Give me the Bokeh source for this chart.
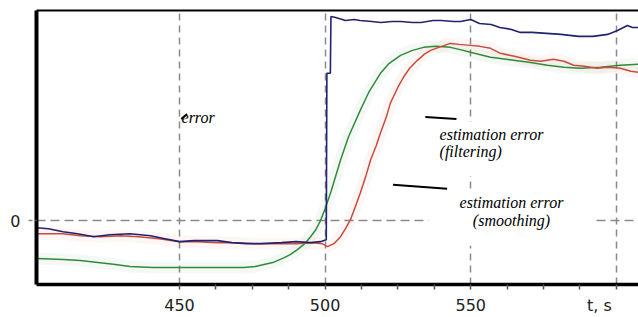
from bokeh.plotting import figure
from bokeh.models import Range1d, FixedTicker, LinearAxis, Label, BoxAnnotation
from bokeh.embed import file_html
from bokeh.resources import INLINE

# ---- data ----
blue_t = [401, 405, 410, 415, 420.5, 426, 433, 440, 445, 450, 455, 463, 468, 473, 478, 485, 490, 495,
          498.4, 500.4, 500.6, 501.8, 502.0, 503.6, 507, 510, 512, 516, 519, 523, 526, 530, 533, 537,
          540, 544, 546.5, 550, 553, 557, 560, 564, 567, 571, 576, 581, 587, 592, 597, 600.4, 603.8,
          605.5, 607.5]
blue_v = [-0.07, -0.08, -0.11, -0.13, -0.16, -0.14, -0.13, -0.15, -0.18, -0.21, -0.20, -0.20, -0.22,
          -0.23, -0.23, -0.22, -0.21, -0.22, -0.21, -0.19, 1.48, 1.48, 2.05, 2.04, 2.01, 2.02, 2.01,
          2.00, 1.99, 2.00, 2.00, 1.99, 1.99, 2.01, 2.01, 2.00, 2.00, 2.02, 1.98, 1.97, 1.94, 1.92,
          1.89, 1.89, 1.88, 1.87, 1.85, 1.85, 1.87, 1.91, 1.96, 1.94, 1.94]

red_t = [401, 405, 410, 416, 423, 430, 436, 443, 450, 456, 463, 470, 476, 483, 490, 496, 499, 500.8,
         503, 505.3, 507, 508.7, 510.5, 512.1, 514, 515.6, 517.5, 519, 521, 522.4, 525, 526.9, 529,
         531.7, 534, 536.2, 540, 543, 546, 549.9, 553, 556.8, 560.2, 565, 570.5, 574, 578.4, 582,
         585.3, 589, 593.5, 597, 601.4, 605, 607.5]
red_v = [-0.13, -0.13, -0.13, -0.15, -0.16, -0.15, -0.16, -0.18, -0.21, -0.21, -0.22, -0.22, -0.23,
         -0.23, -0.23, -0.22, -0.23, -0.26, -0.23, -0.16, -0.08, 0.01, 0.15, 0.28, 0.45, 0.61, 0.75,
         0.88, 1.04, 1.18, 1.34, 1.44, 1.53, 1.61, 1.67, 1.71, 1.75, 1.78, 1.77, 1.76, 1.75, 1.73,
         1.68, 1.65, 1.61, 1.60, 1.62, 1.60, 1.56, 1.55, 1.53, 1.54, 1.53, 1.50, 1.49]

green_t = [401, 410, 416, 422, 428, 433, 441, 450, 460, 472, 476, 479, 482, 486, 488, 490.5, 493, 495,
           496.8, 498.4, 500, 502, 505.3, 508, 512.1, 515, 519, 522, 525.9, 530, 533.8, 538, 543, 546,
           549.9, 556.8, 564.7, 570, 576.3, 582, 587.7, 594.5, 601.4, 607.5]
green_v = [-0.38, -0.39, -0.40, -0.42, -0.44, -0.46, -0.47, -0.47, -0.47, -0.47, -0.46, -0.44, -0.42,
           -0.37, -0.34, -0.29, -0.23, -0.16, -0.09, 0.00, 0.12, 0.29, 0.61, 0.84, 1.11, 1.29, 1.48,
           1.58, 1.66, 1.71, 1.74, 1.75, 1.74, 1.72, 1.69, 1.64, 1.61, 1.59, 1.56, 1.54, 1.53, 1.54,
           1.56, 1.57]

grid_ticks = [450, 500, 550, 600]
tick_marks = [450, 462.5, 475, 487.5, 500, 512.5, 525, 537.5, 550, 562.5, 575, 587.5, 600]
label_ticks = [450, 500, 550, 594.2]
label_overrides = {594.2: "t, s"}
y_ticks = [0]

BLUE = "#22226e"
RED = "#cc4a3c"
GREEN = "#318a3a"

p = figure(width=638, height=317, x_range=Range1d(400.9, 607.6), y_range=Range1d(-0.64, 2.11),
           output_backend="svg", toolbar_location=None,
           min_border_left=36, min_border_right=0, min_border_top=10, min_border_bottom=32)
p.background_fill_color = "white"
p.border_fill_color = "white"
p.outline_line_color = None

# axes
p.xaxis.ticker = FixedTicker(ticks=label_ticks, minor_ticks=tick_marks)
p.xaxis.major_label_overrides = label_overrides
p.xaxis.axis_line_width = 3.5
p.xaxis.axis_line_color = "black"
p.xaxis.major_tick_out = 0
p.xaxis.major_tick_in = 0
p.xaxis.major_tick_line_color = None
p.xaxis.minor_tick_out = 5
p.xaxis.minor_tick_in = 0
p.xaxis.minor_tick_line_color = "#555555"
p.xaxis.minor_tick_line_width = 1.5
p.xaxis.major_label_standoff = 6
p.xaxis.major_label_text_font = "DejaVu Sans"
p.xaxis.major_label_text_font_size = "16px"
p.xaxis.major_label_text_color = "#222222"

p.yaxis.ticker = FixedTicker(ticks=y_ticks, minor_ticks=[])
p.yaxis.axis_line_width = 4
p.yaxis.axis_line_color = "black"
p.yaxis.major_tick_out = 8
p.yaxis.major_tick_in = 0
p.yaxis.major_tick_line_color = "#888888"
p.yaxis.major_tick_line_dash = "4 3"
p.yaxis.major_tick_line_width = 1.5
p.yaxis.minor_tick_line_color = None
p.yaxis.major_label_standoff = 8
p.yaxis.major_label_text_font = "DejaVu Sans"
p.yaxis.major_label_text_font_size = "16px"
p.yaxis.major_label_text_color = "#222222"

top = LinearAxis(ticker=FixedTicker(ticks=[], minor_ticks=[]), axis_line_width=2,
                 axis_line_color="black", major_tick_out=0, major_tick_in=0,
                 minor_tick_out=0, minor_tick_in=0, major_label_standoff=0,
                 major_label_text_font_size="0px")
p.add_layout(top, "above")

# grids
p.xgrid.ticker = FixedTicker(ticks=grid_ticks)
p.xgrid.grid_line_color = "#8a8a8a"
p.xgrid.grid_line_dash = "7 5"
p.xgrid.grid_line_width = 1.5
p.ygrid.ticker = FixedTicker(ticks=y_ticks)
p.ygrid.grid_line_color = "#8a8a8a"
p.ygrid.grid_line_dash = "9 5"
p.ygrid.grid_line_width = 1.5

# soft halos
p.line(green_t, green_v, line_color=GREEN, line_width=12, line_alpha=0.05)
p.line(red_t, red_v, line_color=RED, line_width=12, line_alpha=0.05)

# curves
p.line(green_t, green_v, line_color=GREEN, line_width=1.5)
p.line(red_t, red_v, line_color=RED, line_width=1.5)
p.line(blue_t, blue_v, line_color=BLUE, line_width=1.6)

# white boxes behind annotation texts
p.add_layout(BoxAnnotation(left=536.9, right=578.0, bottom=0.45, top=0.99,
                           fill_color="white", fill_alpha=1, line_color=None))
p.add_layout(BoxAnnotation(left=535.5, right=592.8, bottom=-0.25, top=0.30,
                           fill_color="white", fill_alpha=1, line_color=None))

# leader lines
p.line([534.4, 545.1], [1.04, 1.02], line_color="black", line_width=2)
p.line([523.3, 541.9], [0.36, 0.32], line_color="black", line_width=2)
p.line([450.6, 452.6], [1.02, 1.07], line_color="black", line_width=2)

serif = dict(text_font="Liberation Serif", text_font_style="italic", text_font_size="16px",
             text_color="black", text_baseline="middle")
p.add_layout(Label(x=450.7, y=1.04, text="error", text_align="left", **serif))
p.add_layout(Label(x=539.3, y=0.87, text="estimation error", text_align="left", **serif))
p.add_layout(Label(x=539.3, y=0.69, text="(filtering)", text_align="left", **serif))
p.add_layout(Label(x=564.0, y=0.18, text="estimation error", text_align="center", **serif))
p.add_layout(Label(x=564.0, y=0.00, text="(smoothing)", text_align="center", **serif))

open("out.html", "w").write(file_html(p, INLINE))
